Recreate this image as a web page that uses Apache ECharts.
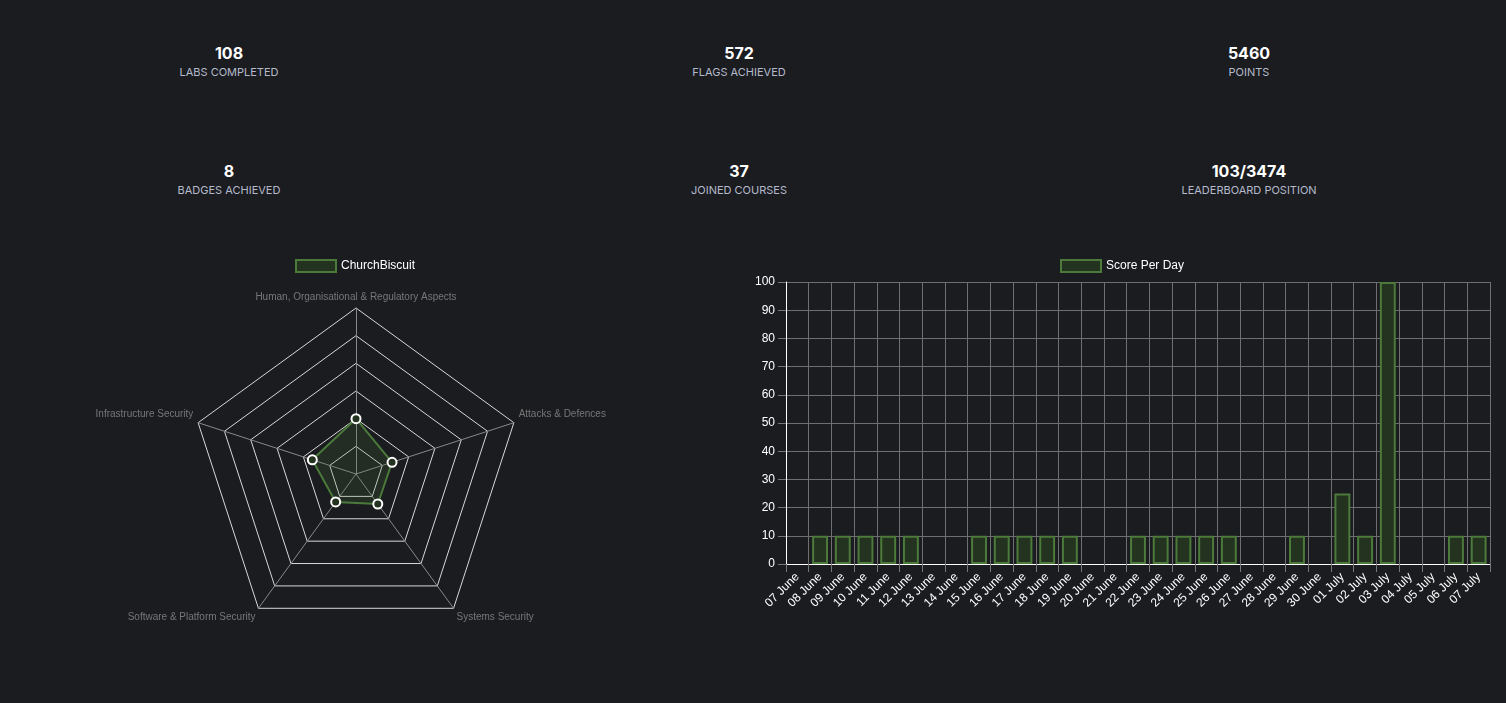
<!DOCTYPE html>
<html>
<head>
<meta charset="utf-8">
<script src="https://cdn.jsdelivr.net/npm/echarts@6/dist/echarts.min.js"></script>
<style>
  html, body { margin: 0; padding: 0; background: #1b1c20; }
  body { width: 1506px; height: 703px; position: relative; overflow: hidden; font-family: Inter, 'Open Sans', sans-serif; }
  .stat { position: absolute; width: 300px; text-align: center; }
  .stat .num { color: #fff; font-weight: 700; font-size: 16px; line-height: 20px; }
  .stat .lbl { color: #b4bacb; font-size: 11px; line-height: 16px; margin-top: 1px; }
  #chart { position: absolute; left: 0; top: 0; width: 1506px; height: 703px; }
</style>
</head>
<body>
<div id="stats"></div>
<div id="chart"></div>
<script>
// summary numbers
const statValues = ['108', '572', '5460', '8', '37', '103/3474'];
const statLabels = ['LABS COMPLETED', 'FLAGS ACHIEVED', 'POINTS', 'BADGES ACHIEVED', 'JOINED COURSES', 'LEADERBOARD POSITION'];

// radar (listed counter-clockwise from the top)
const skillNames = ['Human, Organisational & Regulatory Aspects', 'Infrastructure Security', 'Software & Platform Security', 'Systems Security', 'Attacks & Defences'];
const skillValues = [2, 1.66, 1.25, 1.34, 1.37];

// score per day
const days = ['07 June', '08 June', '09 June', '10 June', '11 June', '12 June', '13 June', '14 June', '15 June', '16 June',
  '17 June', '18 June', '19 June', '20 June', '21 June', '22 June', '23 June', '24 June', '25 June', '26 June',
  '27 June', '28 June', '29 June', '30 June', '01 July', '02 July', '03 July', '04 July', '05 July', '06 July', '07 July'];
const scores = [0, 10, 10, 10, 10, 10, 0, 0, 10, 10, 10, 10, 10, 0, 0, 10, 10, 10, 10, 10, 0, 0, 10, 0, 25, 10, 100, 0, 0, 10, 10];

const statsEl = document.getElementById('stats');
const colX = [229, 739, 1249];
const rowY = [43, 161];
statValues.forEach((v, i) => {
  const d = document.createElement('div');
  d.className = 'stat';
  d.style.left = (colX[i % 3] - 150) + 'px';
  d.style.top = rowY[Math.floor(i / 3)] + 'px';
  d.innerHTML = '<div class="num">' + v + '</div><div class="lbl">' + statLabels[i] + '</div>';
  statsEl.appendChild(d);
});

const green = '#4b7a3b';
const greenFill = '#24331f';
const font = 'Liberation Sans, Arial, sans-serif';

// nudge the side / bottom axis names the way the original lays them out
const nameFormatter = (name) => {
  const i = skillNames.indexOf(name);
  if (i === 1 || i === 4) return '{t|' + name + '}\n{up| }';
  if (i === 2 || i === 3) return '{down| }\n{t|' + name + '}';
  return '{t|' + name + '}';
};

const chart = echarts.init(document.getElementById('chart'));
chart.setOption({
  animation: false,
  backgroundColor: 'transparent',
  textStyle: { fontFamily: font },
  legend: [
    {
      left: 290, top: 254, itemWidth: 40, itemHeight: 12, icon: 'rect',
      textStyle: { color: '#fff', fontSize: 12, fontFamily: font },
      data: [{ name: 'ChurchBiscuit', itemStyle: { color: greenFill, borderColor: green, borderWidth: 2 } }]
    },
    {
      left: 1055, top: 254, itemWidth: 40, itemHeight: 12, icon: 'rect',
      textStyle: { color: '#fff', fontSize: 12, fontFamily: font },
      data: [{ name: 'Score Per Day', itemStyle: { color: greenFill, borderColor: green, borderWidth: 2 } }]
    }
  ],
  radar: {
    center: [356, 474],
    radius: 166,
    shape: 'polygon',
    splitNumber: 6,
    nameGap: 5,
    axisName: {
      color: '#777', fontSize: 10, fontFamily: font,
      formatter: nameFormatter,
      rich: {
        t: { color: '#777', fontSize: 10, fontFamily: font, lineHeight: 12 },
        up: { fontSize: 10, lineHeight: 14 },
        down: { fontSize: 10, lineHeight: 10 }
      }
    },
    indicator: skillNames.map(n => ({ name: n, min: 0, max: 6 })),
    splitLine: { lineStyle: { color: '#d8d8d8', width: 1 } },
    splitArea: { show: false },
    axisLine: { lineStyle: { color: '#8a8a8a', width: 1 } }
  },
  grid: { left: 786, right: 16, top: 282, bottom: 139 },
  xAxis: {
    type: 'category',
    data: days,
    boundaryGap: true,
    axisLine: { lineStyle: { color: '#fff', width: 1 } },
    axisTick: { show: true, length: 8, interval: 0, lineStyle: { color: '#777' } },
    axisLabel: { color: '#fff', fontSize: 12, rotate: 45, interval: 0, margin: 11, fontFamily: font },
    splitLine: { show: true, interval: 0, lineStyle: { color: '#6f6f6f', width: 1 } }
  },
  yAxis: {
    type: 'value',
    min: 0, max: 100, interval: 10,
    axisLine: { show: true, lineStyle: { color: '#fff', width: 1 } },
    axisTick: { show: true, length: 8, lineStyle: { color: '#777' } },
    axisLabel: { color: '#fff', fontSize: 12, margin: 11, fontFamily: font },
    splitLine: { lineStyle: { color: '#6f6f6f', width: 1 } }
  },
  series: [
    {
      name: 'ChurchBiscuit',
      type: 'radar',
      symbol: 'circle',
      symbolSize: 9,
      lineStyle: { color: green, width: 2 },
      areaStyle: { color: 'rgba(75,122,59,0.25)' },
      itemStyle: { color: greenFill, borderColor: '#fff', borderWidth: 2 },
      data: [{ value: skillValues, name: 'ChurchBiscuit' }]
    },
    {
      name: 'Score Per Day',
      type: 'bar',
      // zero days get no bar outline
      data: scores.map(v => (v === 0 ? '-' : v)),
      barCategoryGap: '30%',
      itemStyle: { color: greenFill, borderColor: green, borderWidth: 2 }
    }
  ]
});
</script>
</body>
</html>
